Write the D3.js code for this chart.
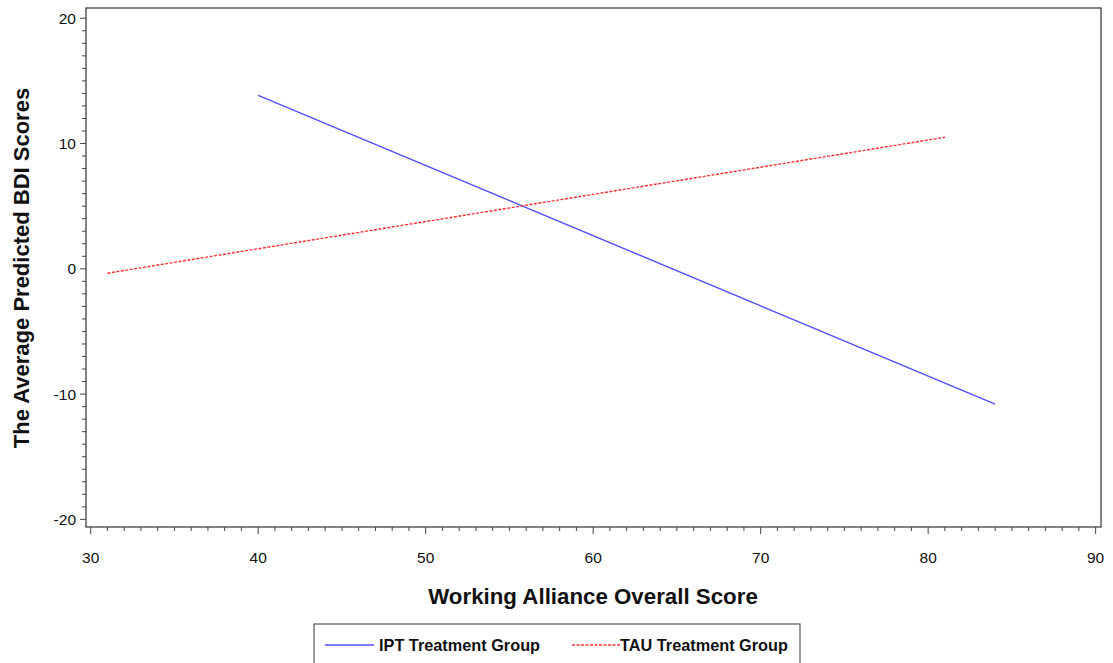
<!DOCTYPE html>
<html><head><meta charset="utf-8">
<script src="https://cdn.jsdelivr.net/npm/d3@7"></script>
<style>body{margin:0;background:#fff;} text{font-family:"Liberation Sans",Arial,sans-serif;}</style>
</head><body>
<svg id="c" width="1113" height="663"></svg>
<script>
const iptX = [40, 84];
const iptY = [13.85, -10.8];
const tauX = [31, 81];
const tauY = [-0.35, 10.5];
const xTicks = [30, 40, 50, 60, 70, 80, 90];
const yTicks = [-20, -10, 0, 10, 20];
const seriesNames = ["IPT Treatment Group", "TAU Treatment Group"];

const svg = d3.select("#c");
const L = 86, R = 1101, T = 8, B = 527;
const x = d3.scaleLinear().domain([29.72, 90.32]).range([L, R]);
const y = d3.scaleLinear().domain([-20.61, 20.82]).range([B, T]);

// frame
svg.append("rect").attr("x", L).attr("y", T).attr("width", R - L).attr("height", B - T)
  .attr("fill", "none").attr("stroke", "#333").attr("stroke-width", 1.2);

// x axis
const xMinor = d3.range(30, 91, 1);
const gx = svg.append("g").attr("transform", `translate(0,${B})`);
gx.selectAll("line.mi").data(xMinor).join("line")
  .attr("x1", d => x(d)).attr("x2", d => x(d)).attr("y1", 0)
  .attr("y2", d => d % 10 === 0 ? 7 : 4).attr("stroke", "#444").attr("stroke-width", 1);
gx.selectAll("text").data(xTicks).join("text")
  .attr("x", d => x(d)).attr("y", 36).attr("text-anchor", "middle")
  .attr("font-size", 15.5).attr("fill", "#111").text(d => d);

// y axis
const yMinor = d3.range(-20, 21, 1);
const gy = svg.append("g").attr("transform", `translate(${L},0)`);
gy.selectAll("line").data(yMinor).join("line")
  .attr("y1", d => y(d)).attr("y2", d => y(d)).attr("x1", 0)
  .attr("x2", d => d % 10 === 0 ? -6 : -4).attr("stroke", "#444").attr("stroke-width", 1);
gy.selectAll("text").data(yTicks).join("text")
  .attr("x", -10).attr("y", d => y(d) + 5.5).attr("text-anchor", "end")
  .attr("font-size", 15.5).attr("fill", "#111").text(d => d);

// titles
svg.append("text").attr("x", 593).attr("y", 604).attr("text-anchor", "middle")
  .attr("font-size", 22.3).attr("font-weight", "bold").attr("fill", "#111")
  .text("Working Alliance Overall Score");
svg.append("text").attr("transform", "translate(29,268) rotate(-90)").attr("text-anchor", "middle")
  .attr("font-size", 22).attr("font-weight", "bold").attr("fill", "#111")
  .text("The Average Predicted BDI Scores");

// lines
const line = d3.line().x(d => x(d[0])).y(d => y(d[1]));
svg.append("path").datum(iptX.map((v, i) => [v, iptY[i]]))
  .attr("d", line).attr("fill", "none").attr("stroke", "#5050ff").attr("stroke-width", 1.4);
svg.append("path").datum(tauX.map((v, i) => [v, tauY[i]]))
  .attr("d", line).attr("fill", "none").attr("stroke", "#ff3030").attr("stroke-width", 1.4)
  .attr("stroke-dasharray", "3,1.5");

// legend
svg.append("rect").attr("x", 314).attr("y", 624).attr("width", 486).attr("height", 50)
  .attr("fill", "none").attr("stroke", "#555").attr("stroke-width", 1.2);
const lg = [
  {x1: 325, x2: 374, tx: 379, color: "#5050ff", dash: null},
  {x1: 572, x2: 620, tx: 620, color: "#ff3030", dash: "3,1.5"}
];
lg.forEach((g, i) => {
  svg.append("line").attr("x1", g.x1).attr("x2", g.x2).attr("y1", 645).attr("y2", 645)
    .attr("stroke", g.color).attr("stroke-width", 1.4).attr("stroke-dasharray", g.dash);
  svg.append("text").attr("x", g.tx).attr("y", 651).attr("font-size", 16.3)
    .attr("font-weight", "bold").attr("fill", "#111").text(seriesNames[i]);
});
</script>
</body></html>
